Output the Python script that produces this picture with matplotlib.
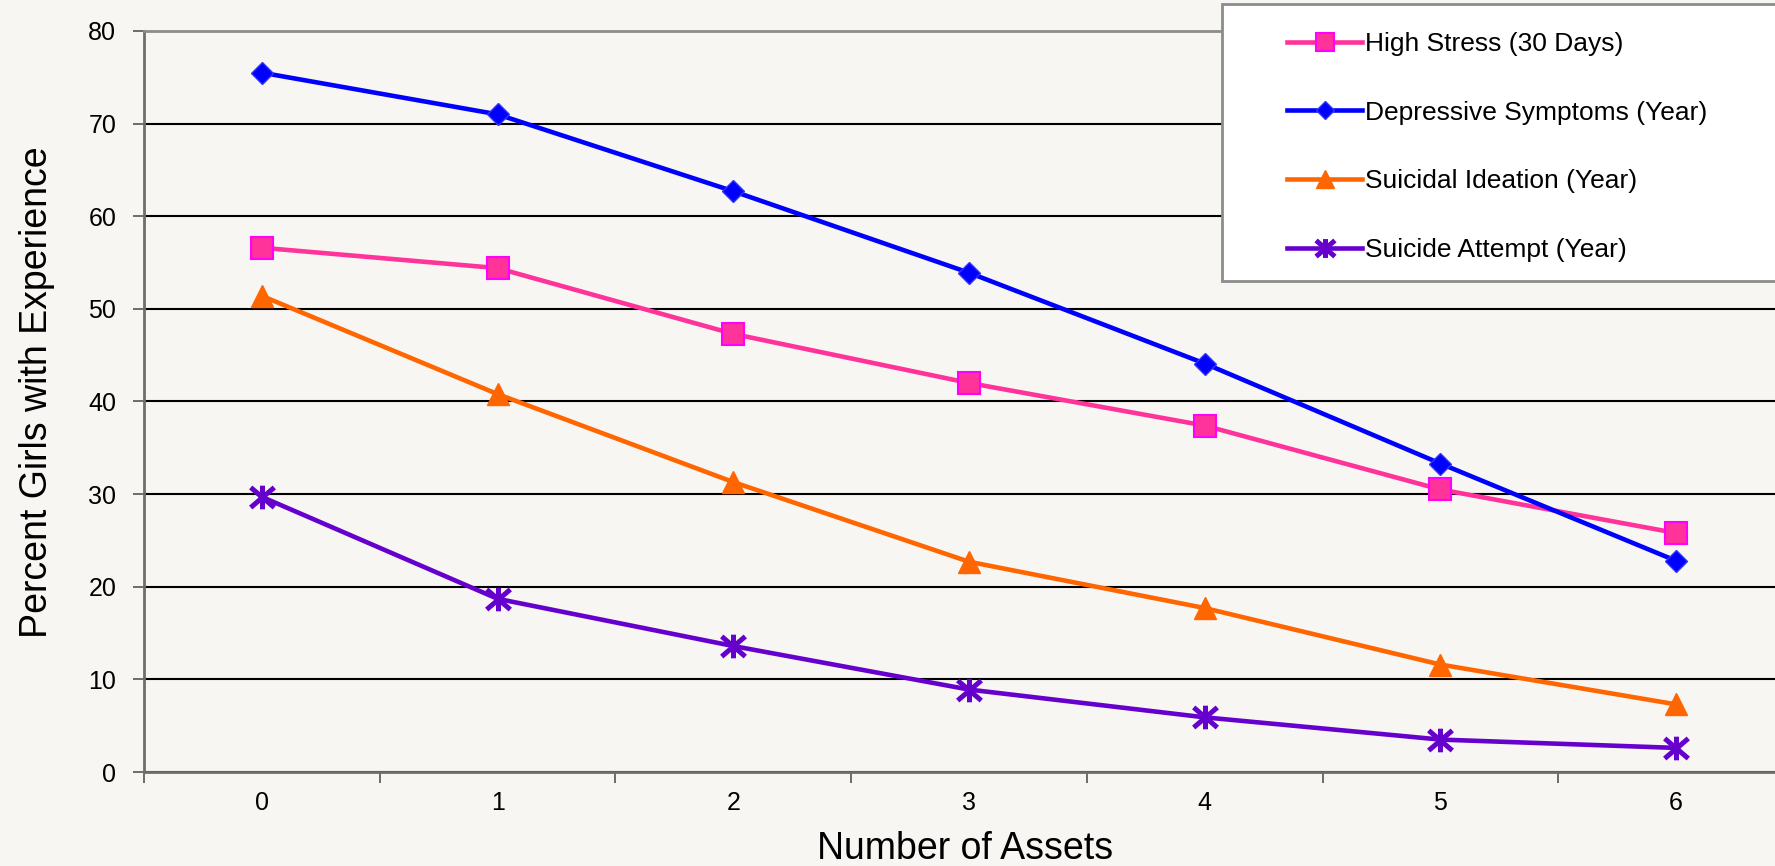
import numpy as np
import matplotlib
matplotlib.use("Agg")
import matplotlib.pyplot as plt
from matplotlib.path import Path
from matplotlib.patches import Rectangle

plt.rcParams['font.family'] = ['Liberation Sans', 'DejaVu Sans']

assets = [0, 1, 2, 3, 4, 5, 6]
high_stress = [56.6, 54.4, 47.3, 42.0, 37.4, 30.5, 25.8]
depressive = [75.5, 71.0, 62.7, 53.9, 44.1, 33.3, 22.8]
ideation = [51.4, 40.8, 31.3, 22.7, 17.7, 11.6, 7.3]
attempt = [29.7, 18.7, 13.6, 8.9, 5.9, 3.5, 2.6]
labels = ['High Stress (30 Days)', 'Depressive Symptoms (Year)',
          'Suicidal Ideation (Year)', 'Suicide Attempt (Year)']

# asterisk marker: vertical stroke plus an X
star = Path([(0, -1), (0, 1), (-1, -0.85), (1, 0.85), (-1, 0.85), (1, -0.85)],
            [Path.MOVETO, Path.LINETO, Path.MOVETO, Path.LINETO, Path.MOVETO, Path.LINETO])

bg = '#f7f6f2'
W, H = 1775, 866
fig = plt.figure(figsize=(W / 100, H / 100), dpi=100, facecolor=bg)
ax = fig.add_axes([144 / W, 1 - 772 / H, (1794 - 144) / W, (772 - 31) / H])
ax.set_facecolor(bg)

lw = 3.3
h1, = ax.plot(assets, high_stress, color='#ff3399', lw=lw, marker='s', ms=16.5,
              mfc='#ff3399', mec='#ff00ff', mew=1.5, zorder=3)
h2, = ax.plot(assets, depressive, color='#0000ff', lw=lw, marker='D', ms=11.5,
              mfc='#0000ff', mec='#3333ff', mew=1, zorder=3)
h3, = ax.plot(assets, ideation, color='#ff6600', lw=lw, marker='^', ms=16.5,
              mfc='#ff6600', mec='#ff6600', mew=1, zorder=3)
h4, = ax.plot(assets, attempt, color='#6600cc', lw=lw, marker=star, ms=17,
              mfc='none', mec='#6600cc', mew=3.6, zorder=3)

ax.set_xlim(-0.5, 6.5)
ax.set_ylim(0, 80)
ax.set_yticks(np.arange(0, 81, 10))
ax.set_xticks(assets)
ax.set_xticks(np.arange(-0.5, 7, 1), minor=True)
ax.tick_params(axis='x', which='major', length=0, pad=14, labelsize=18)
ax.tick_params(axis='x', which='minor', length=8, width=1.2, color='#555555', direction='out')
ax.tick_params(axis='y', length=8, width=1.2, color='#555555', direction='out',
               pad=12, labelsize=18)

ax.grid(axis='y', color='black', lw=1.5)
ax.set_axisbelow(True)
for side in ['left', 'bottom', 'top']:
    ax.spines[side].set_color('#6e6e6e')
    ax.spines[side].set_linewidth(2)
ax.spines['top'].set_color('#8c8c8c')
ax.spines['right'].set_visible(False)

fig.text(37 / W, 1 - 392 / H, 'Percent Girls with Experience', rotation=90,
         fontsize=27, ha='center', va='center')
fig.text(965 / W, 1 - 849 / H, 'Number of Assets', fontsize=27,
         ha='center', va='center')

# legend box
fig.patches.append(Rectangle((1222 / W, 1 - 281 / H), 700 / W, (281 - 4) / H,
                             transform=fig.transFigure, facecolor='white',
                             edgecolor='#8c8c8c', lw=2, zorder=4))
leg = fig.legend([h1, h2, h3, h4], labels, loc='upper left',
                 bbox_to_anchor=(1287 / W, 1 - 32 / H), frameon=False,
                 fontsize=19, borderpad=0, borderaxespad=0, handlelength=2.85,
                 handletextpad=0.1, labelspacing=1.69, markerscale=0.8)
leg.set_zorder(5)

fig.savefig('out.png', dpi=100, facecolor=bg)
